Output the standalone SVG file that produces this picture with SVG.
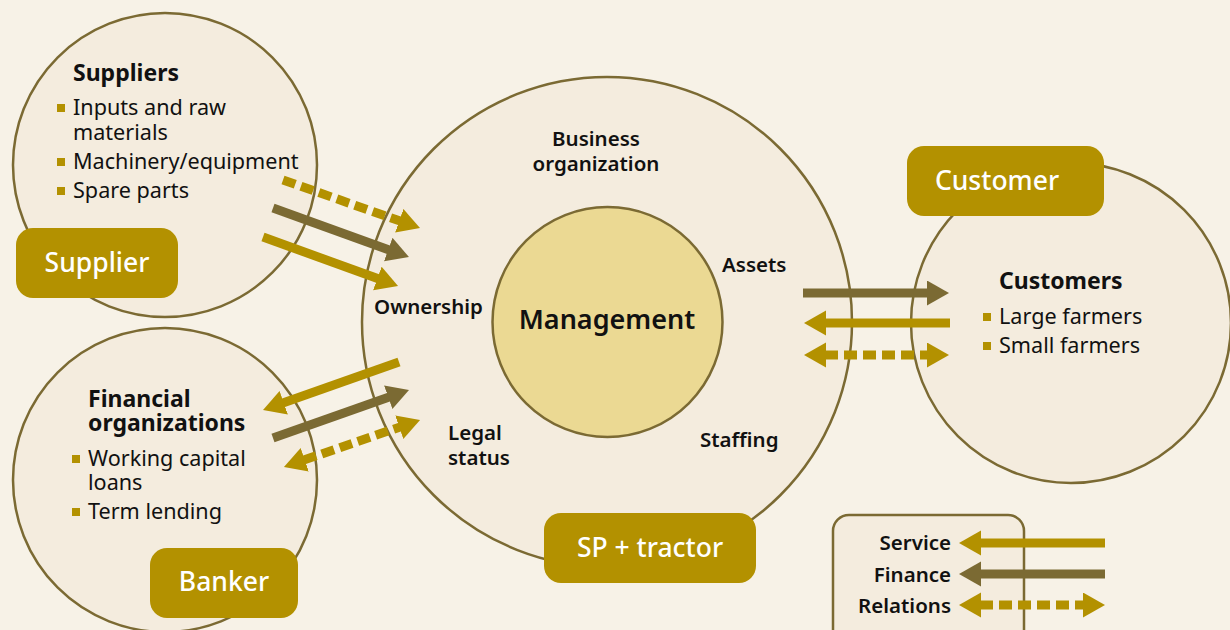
<svg xmlns="http://www.w3.org/2000/svg" width="1230" height="630" viewBox="0 0 1230 630">
<defs>
<style>
.circ{fill:#F4ECDE;stroke:#7B6A33;stroke-width:2.5}
.mgmt{fill:#EBD993;stroke:#7B6A33;stroke-width:2.5}
.tag{fill:#B39100}
.tagt{font-family:"Noto Sans","Liberation Sans",sans-serif;font-size:26.5px;font-weight:500;fill:#FFFFFF;text-anchor:middle}
.h{font-family:"Noto Sans","Liberation Sans",sans-serif;font-size:23px;font-weight:700;fill:#111111}
.t{font-family:"Noto Sans","Liberation Sans",sans-serif;font-size:21.6px;font-weight:400;fill:#111111}
.b{font-family:"Noto Sans","Liberation Sans",sans-serif;font-size:20.5px;font-weight:600;fill:#111111}
.bul{fill:#B39100}
.svc{stroke:#B39100;stroke-width:9;fill:none}
.fin{stroke:#7B6A33;stroke-width:9;fill:none}
.rel{stroke:#B39100;stroke-width:9;fill:none;stroke-dasharray:13 6}
</style>
<marker id="ahS" markerUnits="userSpaceOnUse" markerWidth="24" markerHeight="26" refX="1" refY="12.5" orient="auto-start-reverse" viewBox="0 0 24 26">
<path d="M0,0 L22,12.5 L0,25 z" fill="#B39100"/>
</marker>
<marker id="ahF" markerUnits="userSpaceOnUse" markerWidth="24" markerHeight="26" refX="1" refY="12.5" orient="auto-start-reverse" viewBox="0 0 24 26">
<path d="M0,0 L22,12.5 L0,25 z" fill="#7B6A33"/>
</marker>
</defs>
<rect x="0" y="0" width="1230" height="630" fill="#F7F2E7"/>

<g id="supplier">
<circle class="circ" cx="165" cy="165" r="152"/>
<text class="h" x="73" y="81">Suppliers</text>
<rect class="bul" x="57" y="104" width="8" height="8"/>
<text class="t" x="73" y="115">Inputs and raw<tspan x="73" dy="25">materials</tspan></text>
<rect class="bul" x="57" y="158" width="8" height="8"/>
<text class="t" x="73" y="169">Machinery/equipment</text>
<rect class="bul" x="57" y="187" width="8" height="8"/>
<text class="t" x="73" y="198">Spare parts</text>
<rect class="tag" x="16" y="228" width="162" height="70" rx="17"/>
<text class="tagt" x="97" y="272">Supplier</text>
</g>

<g id="banker">
<circle class="circ" cx="165" cy="480" r="152"/>
<text class="h" x="88" y="407">Financial<tspan x="88" dy="24">organizations</tspan></text>
<rect class="bul" x="72" y="455" width="8" height="8"/>
<text class="t" x="88" y="466">Working capital<tspan x="88" dy="24">loans</tspan></text>
<rect class="bul" x="72" y="508" width="8" height="8"/>
<text class="t" x="88" y="519">Term lending</text>
<rect class="tag" x="150" y="548" width="148" height="70" rx="17"/>
<text class="tagt" x="224" y="591">Banker</text>
</g>

<g id="business">
<circle class="circ" cx="607" cy="322" r="245"/>
<text class="b" x="596" y="146" text-anchor="middle">Business<tspan x="596" dy="25">organization</tspan></text>
<text class="b" x="374" y="314">Ownership</text>
<text class="b" x="722" y="272">Assets</text>
<text class="b" x="448" y="440">Legal<tspan x="448" dy="25">status</tspan></text>
<text class="b" x="700" y="447">Staffing</text>
<rect class="tag" x="544" y="513" width="212" height="70" rx="17"/>
<text class="tagt" x="650" y="557">SP + tractor</text>
</g>

<g id="management">
<circle class="mgmt" cx="607.5" cy="322" r="115"/>
<text x="607" y="329" text-anchor="middle" style="font-family:'Noto Sans','Liberation Sans',sans-serif;font-size:27px;font-weight:600;fill:#111111">Management</text>
</g>

<g id="customer">
<circle class="circ" cx="1071" cy="323" r="160"/>
<text class="h" x="999" y="289">Customers</text>
<rect class="bul" x="983" y="313" width="8" height="8"/>
<text class="t" x="999" y="324">Large farmers</text>
<rect class="bul" x="983" y="342" width="8" height="8"/>
<text class="t" x="999" y="353">Small farmers</text>
<rect class="tag" x="907" y="146" width="197" height="70" rx="17"/>
<text class="tagt" x="997" y="190">Customer</text>
</g>

<g id="connectors">
<path class="rel" d="M283,180 L400.2,221.1" marker-end="url(#ahS)"/>
<path class="fin" d="M273,208 L389.2,249.9" marker-end="url(#ahF)"/>
<path class="svc" d="M263,237 L378.3,278.8" marker-end="url(#ahS)"/>
<path class="svc" d="M399,362 L282.8,403" marker-end="url(#ahS)"/>
<path class="fin" d="M273,438 L389.2,397" marker-end="url(#ahF)"/>
<path class="rel" d="M303.8,460.1 L400.2,426.9" marker-start="url(#ahS)" marker-end="url(#ahS)"/>
<path class="fin" d="M803,293 L928,293" marker-end="url(#ahF)"/>
<path class="svc" d="M950,323 L825,323" marker-end="url(#ahS)"/>
<path class="rel" d="M825,355 L928,355" marker-start="url(#ahS)" marker-end="url(#ahS)"/>
</g>

<g id="legend">
<rect x="833" y="515" width="191" height="140" rx="16" fill="#F4ECDE" stroke="#7B6A33" stroke-width="2.5"/>
<text class="b" x="951" y="550" text-anchor="end">Service</text>
<text class="b" x="951" y="582" text-anchor="end">Finance</text>
<text class="b" x="951" y="613" text-anchor="end">Relations</text>
<path class="svc" d="M1105,543 L980,543" marker-end="url(#ahS)"/>
<path class="fin" d="M1105,574 L980,574" marker-end="url(#ahF)"/>
<path class="rel" d="M980,605 L1084,605" marker-start="url(#ahS)" marker-end="url(#ahS)"/>
</g>
</svg>
